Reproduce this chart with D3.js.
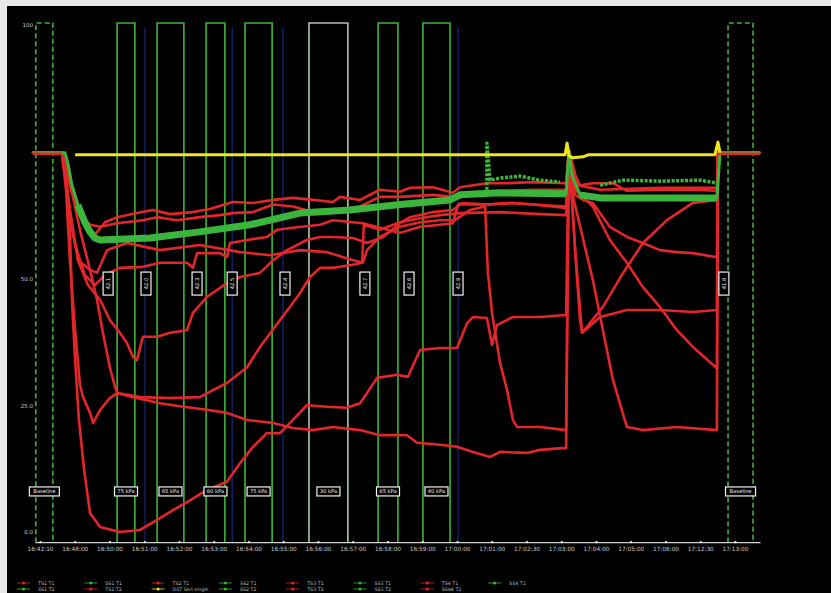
<!DOCTYPE html>
<html><head><meta charset="utf-8">
<script src="https://cdn.jsdelivr.net/npm/d3@7"></script>
<style>html,body{margin:0;padding:0;background:#fff;} svg{display:block;}</style>
</head><body><svg id="c" width="831" height="593"></svg>
<script>
// ---------- data ----------
const xTickLabels = ["16:42:10","16:48:00","16:50:00","16:51:00","16:52:00","16:53:00","16:54:00",
  "16:55:00","16:56:00","16:57:00","16:58:00","16:59:00","17:00:00","17:01:00","17:02:30",
  "17:03:00","17:04:00","17:05:00","17:06:00","17:12:30","17:13:00"];
const yTickValues = [100, 50, 25, 0];
const yTickLabels = ["100", "50.0", "25.0", "0.0"];

const windowStarts = [-0.12, 2.22, 3.37, 4.78, 5.90, 7.74, 9.73, 11.02, 19.80];
const windowEnds   = [ 0.37, 2.73, 4.14, 5.32, 6.68, 8.86, 10.30, 11.80, 20.52];
const windowKinds  = ["baseline","step","step","step","step","pale","step","step","baseline"];
const windowLabels = ["Baseline","75 kPa","65 kPa","60 kPa","75 kPa","30 kPa","65 kPa","40 kPa","Baseline"];

const markerTimes = [3.02, 5.53, 6.99, 12.03];
const eventTimes  = [1.96, 3.05, 4.52, 5.53, 7.05, 9.35, 10.62, 12.03, 19.68];
const eventLabels = ["42.1","42.0","42.3","42.5","42.4","42.7","42.6","42.9","41.8"];

const red1 = [[-0.20,74.8],[0.63,74.8],[0.75,71.4],[0.86,59.6],[0.92,45.8],[1.01,33.9],[1.12,22.1],[1.27,12.2],[1.44,3.7],[1.73,1.0],[2.30,0.0],[2.88,0.4],[3.37,2.4],[3.83,4.3],[4.23,5.9],[4.81,8.3],[5.38,9.9],[5.76,13.6],[6.13,16.8],[6.53,19.5],[6.91,19.5],[7.28,22.1],[7.68,25.0],[8.26,24.7],[8.83,24.5],[9.21,25.4],[9.41,27.4],[9.70,30.4],[10.27,31.0],[10.59,30.6],[10.71,32.5],[10.94,35.9],[11.51,36.3],[12.00,36.3],[12.29,41.2],[12.46,42.4],[12.86,42.2],[13.01,36.9],[13.15,40.8],[13.61,42.4],[14.39,42.4],[15.14,42.8],[15.22,75.3],[15.40,55.6],[15.54,41.8],[15.60,39.3],[16.12,42.4],[16.89,43.8],[17.84,43.8],[18.79,43.4],[19.48,43.8],[19.51,74.8],[20.72,74.8]];
const red2 = [[-0.20,74.8],[0.63,74.8],[0.81,70.4],[1.15,59.6],[1.44,51.7],[1.64,45.8],[1.81,39.3],[2.01,32.5],[2.16,28.6],[2.22,27.4],[2.68,26.6],[3.45,25.4],[4.12,24.7],[4.81,24.1],[5.38,23.5],[5.96,22.1],[6.71,21.5],[7.28,20.5],[7.86,20.1],[8.43,20.7],[9.21,20.1],[9.78,19.1],[10.56,19.1],[10.85,17.6],[11.51,17.2],[12.00,16.8],[12.46,15.8],[12.95,14.8],[13.24,15.8],[14.01,15.6],[14.39,16.2],[15.14,16.6],[15.22,75.3],[15.34,66.1],[15.91,49.7],[16.20,39.8],[16.49,30.0],[16.89,20.7],[17.35,20.1],[18.33,20.7],[19.48,20.1],[19.51,74.8]];
const red3 = [[-0.20,74.8],[0.63,74.8],[0.75,67.5],[0.86,53.6],[1.01,39.8],[1.15,29.0],[1.24,26.6],[1.44,23.5],[1.53,21.5],[1.73,24.1],[2.01,26.4],[2.22,27.4],[2.88,26.6],[3.74,26.4],[4.60,26.6],[5.38,29.4],[5.96,32.5],[6.33,36.5],[6.91,41.8],[7.28,45.2],[7.48,47.1],[7.77,50.3],[8.06,52.1],[8.43,52.1],[9.01,52.7],[9.27,53.1],[9.32,60.6],[9.78,59.6],[10.36,61.1],[10.94,61.9],[11.51,62.5],[12.09,62.9],[13.24,63.1],[14.39,62.7],[15.14,62.5],[15.22,75.3],[15.40,55.6],[15.60,39.3],[16.20,44.4],[16.78,51.1],[17.35,57.0],[18.04,61.5],[18.79,64.9],[19.48,65.5],[19.51,74.8]];
const red4 = [[-0.20,74.8],[0.63,74.8],[0.75,69.4],[0.86,63.5],[1.09,53.6],[1.38,48.7],[1.73,45.8],[2.01,41.8],[2.30,39.3],[2.50,37.3],[2.68,34.5],[2.79,33.9],[2.96,38.5],[3.37,38.5],[3.74,39.3],[4.23,39.8],[4.40,43.2],[4.81,46.4],[5.38,49.1],[5.76,50.3],[6.33,51.1],[6.71,53.6],[7.11,55.6],[7.68,57.6],[8.06,58.2],[8.43,58.2],[9.01,58.0],[9.41,57.0],[9.87,58.2],[10.36,60.9],[10.65,62.1],[11.31,63.1],[11.88,63.5],[12.09,64.6],[12.86,64.6],[13.61,64.9],[14.19,64.6],[15.14,63.9],[15.22,75.3],[15.40,66.5],[15.63,65.5],[15.91,64.9],[16.40,60.2],[16.89,58.2],[17.35,57.0],[17.84,55.6],[18.33,55.2],[18.79,55.0],[19.48,54.2],[19.51,74.8]];
const red5 = [[-0.20,74.8],[0.63,74.8],[0.81,70.4],[1.09,64.6],[1.38,60.6],[1.58,58.6],[1.87,61.1],[2.22,62.1],[2.79,62.9],[3.25,63.5],[3.74,62.7],[4.40,63.1],[4.89,63.7],[5.55,65.1],[6.13,64.9],[6.71,65.5],[7.28,65.9],[7.86,65.5],[8.43,65.1],[8.63,66.1],[9.21,65.5],[9.78,67.5],[10.36,67.1],[10.65,67.9],[11.31,68.0],[11.88,66.9],[12.09,68.0],[12.86,68.8],[13.44,68.8],[14.19,69.0],[15.14,68.8],[15.22,75.3],[15.40,70.4],[15.54,68.4],[15.91,68.8],[16.49,68.8],[16.89,67.3],[17.84,67.5],[18.79,67.5],[19.48,67.3],[19.51,74.8],[20.72,74.8]];
const red6 = [[-0.20,74.8],[0.63,74.8],[0.86,68.4],[1.15,62.5],[1.44,60.6],[1.73,60.2],[2.22,60.9],[2.96,61.5],[3.37,62.1],[3.94,61.5],[4.60,62.1],[5.18,62.5],[5.55,62.9],[6.13,63.1],[6.71,64.6],[7.28,64.2],[7.86,63.1],[8.43,63.5],[9.21,64.2],[9.78,66.1],[10.36,66.1],[11.31,66.5],[11.88,66.1],[12.86,67.1],[14.19,67.5],[15.14,67.5],[15.22,75.3],[15.48,68.4],[16.12,67.5],[17.84,67.9],[19.48,67.9],[19.51,74.8]];
const red7 = [[-0.20,74.8],[0.63,74.8],[0.81,65.5],[1.01,56.6],[1.29,50.7],[1.58,48.7],[1.87,50.7],[2.30,52.1],[2.96,52.3],[3.45,53.1],[4.23,53.1],[4.40,52.1],[4.52,55.0],[5.18,55.0],[5.38,54.2],[5.47,57.0],[5.96,57.6],[6.53,58.2],[6.82,59.6],[7.28,60.0],[8.06,60.6],[8.43,61.5],[9.29,60.9],[9.78,60.0],[10.36,59.0],[10.94,60.2],[11.51,60.6],[11.88,60.9],[12.03,64.6],[12.17,64.9],[12.86,64.6],[13.61,64.9],[14.19,64.6],[15.14,64.2],[15.22,75.3],[15.40,67.5],[15.63,66.1],[15.91,64.2],[16.40,57.6],[16.89,53.1],[17.35,48.3],[17.84,44.4],[18.33,39.8],[18.79,36.5],[19.48,32.3],[19.51,74.8]];
const red8 = [[-0.20,74.8],[0.63,74.8],[0.78,67.5],[0.95,58.6],[1.15,53.3],[1.44,51.7],[1.64,51.1],[1.93,55.6],[2.50,57.0],[3.45,55.6],[4.60,56.6],[5.76,55.2],[6.62,54.6],[7.48,55.6],[8.26,55.2],[9.01,53.6],[9.29,53.1],[9.41,55.6],[9.78,58.2],[10.36,60.2],[10.94,61.1],[11.51,61.5],[11.94,61.5],[12.37,63.5],[12.81,64.2],[12.89,51.1],[13.01,43.2],[13.24,33.3],[13.44,28.0],[13.61,22.1],[13.73,20.7],[14.39,20.7],[15.14,20.1],[15.22,75.3]];
const redSeries = [red1, red2, red3, red4, red5, red6, red7, red8];

const greenMain = [[-0.20,74.8],[0.72,74.8],[0.81,72.4],[0.92,68.4],[1.09,64.5],[1.29,61.1],[1.44,59.2],[1.58,58.0],[1.73,57.6],[3.17,58.0],[4.60,59.2],[6.04,60.6],[7.48,62.9],[8.92,63.5],[10.36,64.6],[11.80,65.5],[12.09,66.5],[13.24,66.9],[15.14,66.7],[15.22,75.3],[15.31,70.4],[15.54,66.5],[16.12,65.9],[17.55,65.9],[19.48,65.9],[19.57,74.8],[20.72,74.8]];
const greenScatter = [[12.86,67.5],[12.86,76.7],[12.95,69.4],[13.24,69.8],[13.81,70.2],[14.39,69.4],[14.96,69.0],null,[16.12,68.4],[16.78,69.4],[17.84,69.2],[18.99,69.4],[19.48,68.8]];
const yellowRef = [[1.01,74.4],[15.11,74.4],[15.17,76.7],[15.22,74.2],[15.34,73.8],[15.63,74.0],[15.77,74.4],[19.42,74.4],[19.51,76.9],[19.57,74.8]];

const legendCol1Labels = ["TS1 T1","SS1 T1","TS2 T1","SS2 T1","TS3 T1","SS3 T1","TS4 T1","SS4 T1"];
const legendCol2Labels = ["SS1 T2","TS1 T2","DST Sen single","SS2 T2","TS3 T2","SS3 T2","SSa4 T2",null];
const legendRow1Colors = ["red","green","red","green","red","green","red","green"];
const legendRow2Colors = ["green","red","yellow","green","red","green","red",null];

// ---------- drawing ----------
const W = 831, H = 593;
const C = {red:"#e3262a", green:"#3bb53b", yellow:"#f0e61e", pale:"#a9c9a9", blue:"#1d2f8f", text:"#c8c8c8"};
const svg = d3.select("#c");
svg.append("rect").attr("width", W).attr("height", H).attr("fill", "#e8e8e8");
svg.append("rect").attr("x", 7).attr("y", 6).attr("width", W - 7).attr("height", H - 6).attr("fill", "#000");

const x = d3.scaleLinear().domain([-0.144, 20.72]).range([35, 760]);
const y = d3.scaleLinear().domain([0, 100]).range([532, 25]);
const yAxisPos = y(-2);
const yTop = y(100.4);

// stimulus windows
windowStarts.forEach((s, i) => {
  const e = windowEnds[i], k = windowKinds[i];
  svg.append("path")
    .attr("d", `M${x(s)},${yAxisPos}V${yTop}H${x(e)}V${yAxisPos}`)
    .attr("fill", "none")
    .attr("stroke", k === "pale" ? C.pale : C.green)
    .attr("stroke-width", 1.6)
    .attr("stroke-dasharray", k === "baseline" ? "5,3" : null);
});
// blue markers
markerTimes.forEach(t => {
  svg.append("line").attr("x1", x(t)).attr("x2", x(t)).attr("y1", y(99.5)).attr("y2", yAxisPos)
    .attr("stroke", C.blue).attr("stroke-width", 1);
});

// series
const line = d3.line().defined(d => d != null).x(d => x(d[0])).y(d => y(d[1]));
redSeries.forEach(s => {
  svg.append("path").attr("d", line(s)).attr("fill", "none").attr("stroke", C.red)
    .attr("stroke-width", 2.6).attr("stroke-linejoin", "round").attr("stroke-linecap", "round");
});
svg.append("path").attr("d", line(greenScatter)).attr("fill", "none").attr("stroke", C.green)
  .attr("stroke-width", 3.5).attr("stroke-dasharray", "3,1.5").attr("stroke-linejoin", "round");
// thin green trace for the whole series, thick noisy band where the signal settles
svg.append("path").attr("d", line(greenMain)).attr("fill", "none").attr("stroke", C.green)
  .attr("stroke-width", 3).attr("stroke-linejoin", "round");
const band = greenMain.map(d => ((d[0] >= 1.0 && d[0] <= 15.14) || (d[0] >= 15.54 && d[0] <= 19.48)) ? d : null);
svg.append("path").attr("d", line(band)).attr("fill", "none").attr("stroke", C.green)
  .attr("stroke-width", 7).attr("stroke-linejoin", "round");
// red plateaus drawn over the green at the baseline periods
const plateau = red1.map(d => (d[0] <= 0.63 || d[0] >= 19.51) ? d : null);
svg.append("path").attr("d", line(plateau)).attr("fill", "none").attr("stroke", C.red)
  .attr("stroke-width", 2.4).attr("transform", "translate(0,1)");
svg.append("path").attr("d", line(yellowRef)).attr("fill", "none").attr("stroke", C.yellow)
  .attr("stroke-width", 3).attr("stroke-linejoin", "round");

// window labels (bottom row)
windowStarts.forEach((s, i) => {
  const cx = x((s + windowEnds[i]) / 2), w = windowKinds[i] === "baseline" ? 30 : 23, cy = y(8);
  const g = svg.append("g");
  g.append("rect").attr("x", cx - w / 2).attr("y", cy - 4.5).attr("width", w).attr("height", 9)
    .attr("fill", "#000").attr("stroke", "#f2f2f2").attr("stroke-width", 1.2);
  g.append("text").attr("x", cx).attr("y", cy + 2).attr("text-anchor", "middle")
    .attr("font-family", "DejaVu Sans").attr("font-size", 5.2).attr("fill", "#eee").text(windowLabels[i]);
});
// event labels (vertical)
eventTimes.forEach((t, i) => {
  const cx = x(t), cy = y(49);
  const g = svg.append("g");
  g.append("rect").attr("x", cx - 5).attr("y", cy - 11.5).attr("width", 10).attr("height", 23)
    .attr("fill", "#000").attr("stroke", "#f2f2f2").attr("stroke-width", 1.2);
  g.append("text").attr("transform", `translate(${cx + 2},${cy}) rotate(-90)`).attr("text-anchor", "middle")
    .attr("font-family", "DejaVu Sans").attr("font-size", 5.2).attr("fill", "#eee").text(eventLabels[i]);
});

// x axis
const xAxis = d3.axisBottom(x).tickValues(d3.range(xTickLabels.length))
  .tickFormat(i => xTickLabels[i]).tickSize(0).tickSizeOuter(0).tickPadding(5);
const gx = svg.append("g").attr("transform", `translate(0,${yAxisPos})`).call(xAxis);
gx.select(".domain").attr("stroke", "#cfcfcf").attr("stroke-width", 1.2);
gx.selectAll("text").attr("fill", C.text).attr("font-family", "DejaVu Sans").attr("font-size", 5.8);
gx.selectAll(".tick").append("circle").attr("r", 1.1).attr("fill", "#fff");

// y axis
const yAxis = d3.axisLeft(y).tickValues(yTickValues)
  .tickFormat((d, i) => yTickLabels[i]).tickSize(0).tickPadding(2);
const gy = svg.append("g").attr("transform", "translate(35,0)").call(yAxis);
gy.select(".domain").remove();
gy.selectAll("text").attr("fill", C.text).attr("font-family", "DejaVu Sans").attr("font-size", 5.5);

// legend
const colX = d3.range(8).map(i => 17 + i * 67.3);
const rowY = [583, 589];
function legendItem(cx, cy, color, label) {
  if (!label) return;
  const col = C[color];
  svg.append("line").attr("x1", cx).attr("x2", cx + 13).attr("y1", cy).attr("y2", cy)
    .attr("stroke", col).attr("stroke-width", 0.8);
  svg.append("circle").attr("cx", cx + 6.5).attr("cy", cy).attr("r", 1.5).attr("fill", col);
  svg.append("text").attr("x", cx + 21).attr("y", cy + 1.8).attr("font-family", "DejaVu Sans")
    .attr("font-size", 4.8).attr("fill", "#bbb").text(label);
}
colX.forEach((cx, i) => {
  legendItem(cx, rowY[0], legendRow1Colors[i], legendCol1Labels[i]);
  legendItem(cx, rowY[1], legendRow2Colors[i], legendCol2Labels[i]);
});
</script></body></html>
